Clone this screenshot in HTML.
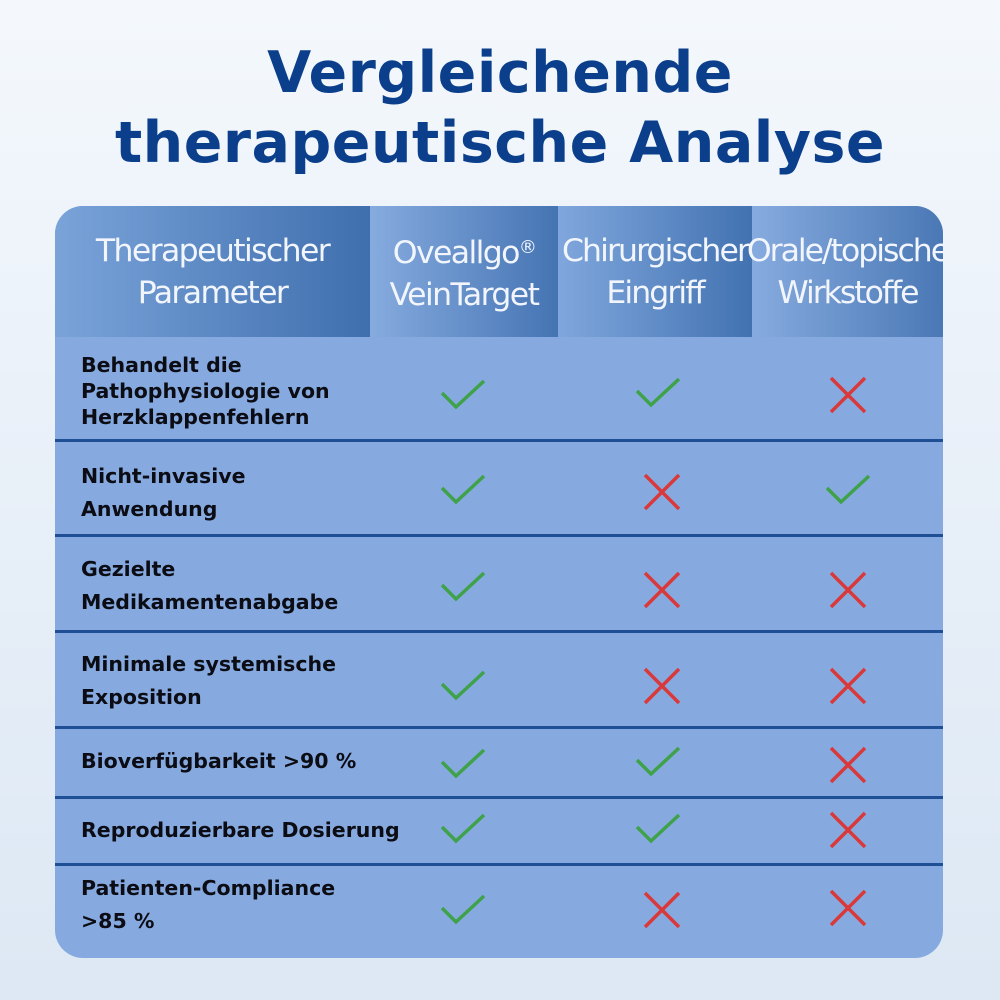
<!DOCTYPE html>
<html><head><meta charset="utf-8"><style>
body{margin:0;width:1000px;height:1000px;overflow:hidden;background:linear-gradient(180deg,#f4f8fc 0%,#eaf1f9 40%,#dde8f4 100%);font-family:"Liberation Sans","DejaVu Sans",sans-serif;position:relative}
.t{position:absolute;left:0;width:1000px;text-align:center;color:#0b3f8c;font-weight:bold;font-size:57px;font-family:"DejaVu Sans","Liberation Sans",sans-serif;letter-spacing:0.5px}
.tab{position:absolute;left:55px;top:206px;width:888px;height:752px;border-radius:28px;overflow:hidden;background:#86aadf}
.h{position:absolute;top:0;height:131px;color:#f2f6fc;font-size:31.5px;text-align:center;line-height:42px;display:flex;align-items:center;justify-content:center;font-family:"DejaVu Sans","Liberation Sans",sans-serif;letter-spacing:-1.6px;white-space:nowrap}
.r{position:absolute;left:0;width:888px;border-bottom:3px solid #1f4f94;box-sizing:border-box}
.lbl{position:absolute;left:26px;font-weight:bold;font-size:20.5px;color:#0c0c14;line-height:26px;font-family:"DejaVu Sans","Liberation Sans",sans-serif;white-space:nowrap}
svg{position:absolute}
</style></head><body>
<div class="t" style="top:40px">Vergleichende</div>
<div class="t" style="top:110px">therapeutische Analyse</div>
<div class="tab">
<div class="h" style="left:0;width:315px;background:linear-gradient(90deg,#7aa3d9,#3f6fae)"><div>Therapeutischer<br>Parameter</div></div>
<div class="h" style="left:315px;width:188px;background:linear-gradient(90deg,#86abdf,#4574b3)"><div>Oveallgo<span style="font-size:18px;vertical-align:10px">®</span><br>VeinTarget</div></div>
<div class="h" style="left:503px;width:194px;background:linear-gradient(90deg,#80a7dd,#4272b1)"><div style="letter-spacing:-1.9px">Chirurgischer<br>Eingriff</div></div>
<div class="h" style="left:697px;width:191px;background:linear-gradient(90deg,#86abdf,#4a78b5)"><div style="letter-spacing:-2px">Orale/topische<br>Wirkstoffe</div></div>
<div class="r" style="top:131px;height:105px"></div>
<div class="r" style="top:236px;height:95px"></div>
<div class="r" style="top:331px;height:96px"></div>
<div class="r" style="top:427px;height:96px"></div>
<div class="r" style="top:523px;height:70px"></div>
<div class="r" style="top:593px;height:67px"></div>
<div class="lbl" style="top:146px">Behandelt die<br>Pathophysiologie von<br>Herzklappenfehlern</div>
<div class="lbl" style="top:254px;line-height:33px">Nicht-invasive<br>Anwendung</div>
<div class="lbl" style="top:347px;line-height:33px">Gezielte<br>Medikamentenabgabe</div>
<div class="lbl" style="top:442px;line-height:33px">Minimale systemische<br>Exposition</div>
<div class="lbl" style="top:542px">Bioverfügbarkeit &gt;90 %</div>
<div class="lbl" style="top:611px">Reproduzierbare Dosierung</div>
<div class="lbl" style="top:666px;line-height:33px">Patienten-Compliance<br>&gt;85 %</div>
</div>
<svg width="1000" height="1000" style="left:0;top:0">
<defs>
<g id="c"><polyline points="-21,-2 -7,12 21,-14" fill="none" stroke="#3fa24a" stroke-width="3.5"/></g>
<g id="x"><path d="M-17,-17L17,17M17,-17L-17,17" stroke="#d9393a" stroke-width="3.5"/></g>
</defs>
<use href="#c" x="463" y="395"/><use href="#c" x="658" y="393"/><use href="#x" x="848" y="395"/>
<use href="#c" x="463" y="490"/><use href="#x" x="662" y="492"/><use href="#c" x="848" y="490"/>
<use href="#c" x="463" y="587"/><use href="#x" x="662" y="590"/><use href="#x" x="848" y="590"/>
<use href="#c" x="463" y="686"/><use href="#x" x="662" y="686"/><use href="#x" x="848" y="686"/>
<use href="#c" x="463" y="764"/><use href="#c" x="658" y="762"/><use href="#x" x="848" y="765"/>
<use href="#c" x="463" y="829"/><use href="#c" x="658" y="829"/><use href="#x" x="848" y="830"/>
<use href="#c" x="463" y="910"/><use href="#x" x="662" y="910"/><use href="#x" x="848" y="908"/>
</svg>
</body></html>
